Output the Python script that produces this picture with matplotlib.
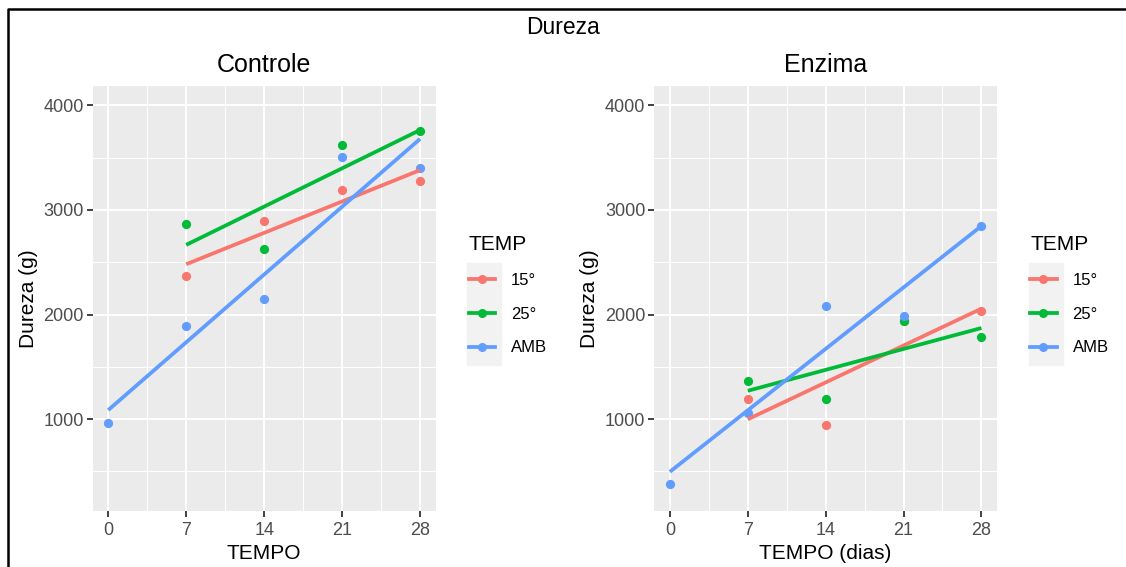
import numpy as np
import matplotlib
matplotlib.use('Agg')
import matplotlib.pyplot as plt
from matplotlib.lines import Line2D
from matplotlib.patches import Rectangle

plt.rcParams['font.family'] = ['Liberation Sans', 'DejaVu Sans']

# dane
tempo = [0, 7, 14, 21, 28]
temps = ['15°', '25°', 'AMB']
cores = ['#F8766D', '#00BA38', '#619CFF']

ctrl_15 = [np.nan, 2372, 2891, 3190, 3273]
ctrl_25 = [np.nan, 2862, 2630, 3617, 3754]
ctrl_amb = [962, 1895, 2153, 3505, 3400]

enz_15 = [np.nan, 1191, 943, 1940, 2035]
enz_25 = [np.nan, 1366, 1194, 1939, 1785]
enz_amb = [376, 1060, 2082, 1990, 2850]

W, H = 1126, 567


def fx(px):
    return px / W


def fy(py):
    return 1 - py / H


def painel(ax, series, titulo, xlabel):
    ax.set_facecolor('#EBEBEB')
    for s in ax.spines.values():
        s.set_visible(False)
    x = np.array(tempo, dtype=float)
    for ys, cor, lab in zip(series, cores, temps):
        y = np.array(ys, dtype=float)
        ok = ~np.isnan(y)
        # regressao linear (geom_smooth lm)
        a, b = np.polyfit(x[ok], y[ok], 1)
        xx = np.array([x[ok].min(), x[ok].max()])
        ax.scatter(x[ok], y[ok], s=44, color=cor, zorder=3, linewidths=0)
        ax.plot(xx, a * xx + b, color=cor, lw=2.7, zorder=4, solid_capstyle='butt')
    ax.set_xlim(-1.4, 29.4)
    ax.set_ylim(121, 4186)
    ax.set_xticks(tempo)
    ax.set_xticks([3.5, 10.5, 17.5, 24.5], minor=True)
    ax.set_yticks([1000, 2000, 3000, 4000])
    ax.set_yticks([500, 1500, 2500, 3500], minor=True)
    ax.grid(which='major', color='white', lw=1.4)
    ax.grid(which='minor', color='white', lw=0.7)
    ax.set_axisbelow(True)
    ax.tick_params(which='major', length=4, width=1.3, color='#333333',
                   labelcolor='#4D4D4D', labelsize=13)
    ax.tick_params(axis='x', pad=4.2)
    ax.tick_params(axis='y', pad=2.5)
    ax.tick_params(which='minor', length=0)
    ax.set_title(titulo, fontsize=18, pad=10)
    ax.set_xlabel(xlabel, fontsize=15, labelpad=3)
    ax.set_ylabel('Dureza (g)', fontsize=15, labelpad=4)

    handles = [Line2D([], [], color=c, lw=2.7, marker='o', ms=6.5, mew=0)
               for c in cores]
    leg = ax.legend(handles, temps, title='TEMP', loc='upper left',
                    bbox_to_anchor=(1.072, 0.668), frameon=False, fontsize=12,
                    title_fontsize=15, labelspacing=1.12, handlelength=1.6,
                    handletextpad=0.95, borderpad=0, alignment='left')
    return leg


fig = plt.figure(figsize=(11.26, 5.67), dpi=100)

ax1 = fig.add_axes([fx(92.6), fy(511), fx(435.7) - fx(92.6), fy(86) - fy(511)])
ax2 = fig.add_axes([fx(654.3), fy(511), fx(997) - fx(654.3), fy(86) - fy(511)])

painel(ax1, [ctrl_15, ctrl_25, ctrl_amb], 'Controle', 'TEMPO')
painel(ax2, [enz_15, enz_25, enz_amb], 'Enzima', 'TEMPO (dias)')

# fundo cinza das chaves da legenda
for x0 in [467, 1029]:
    fig.patches.append(Rectangle((fx(x0), fy(365)), fx(34), fy(263) - fy(365),
                                 transform=fig.transFigure, color='#F2F2F2',
                                 zorder=-1))

fig.text(0.5, fy(27), 'Dureza', ha='center', va='center', fontsize=16.5)

# moldura
fig.add_artist(Line2D([fx(8), fx(8), 1.01], [-0.01, fy(9), fy(9)],
                      transform=fig.transFigure, color='black', lw=1.8))

fig.savefig('out.png', dpi=100)
